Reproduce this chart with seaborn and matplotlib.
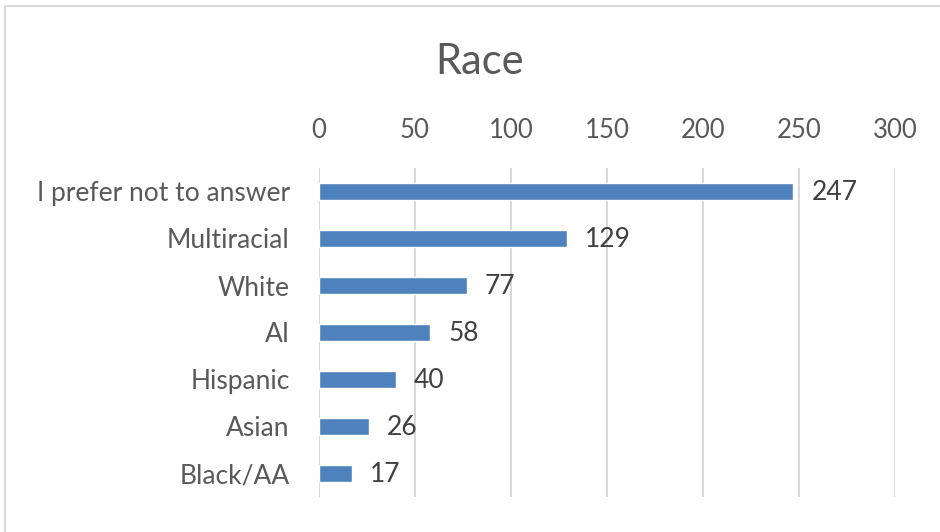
import matplotlib
matplotlib.use("Agg")
import matplotlib.pyplot as plt
from matplotlib.patches import Rectangle
import seaborn as sns
import pandas as pd

categories = ["I prefer not to answer", "Multiracial", "White", "AI", "Hispanic", "Asian", "Black/AA"]
counts = [247, 129, 77, 58, 40, 26, 17]
x_ticks = [0, 50, 100, 150, 200, 250, 300]

sns.set_theme(style="white")
plt.rcParams["font.family"] = ["Lato", "DejaVu Sans"]

text_color = "#595959"
bar_color = "#4F81BD"
grid_color = "#D9D9D9"

df = pd.DataFrame({"race": categories, "count": counts})

W, H = 940, 532
fig = plt.figure(figsize=(W / 100, H / 100), dpi=100)
ax = fig.add_axes([319 / W, 1 - 497 / H, (895 - 319) / W, (497 - 168) / H])

sns.barplot(data=df, x="count", y="race", color=bar_color, width=0.36,
            saturation=1, ax=ax, order=categories)

ax.set_xlim(0, 300)
ax.set_xticks(x_ticks)
ax.set_xticklabels([str(t) for t in x_ticks])
ax.xaxis.tick_top()
ax.tick_params(axis="x", length=0, pad=18, labelsize=18.5, labelcolor=text_color)
ax.tick_params(axis="y", length=0, pad=21, labelsize=19, labelcolor=text_color)
ax.set_xlabel("")
ax.set_ylabel("")
ax.grid(axis="x", color=grid_color, linewidth=1.5)
ax.set_axisbelow(True)
for s in ax.spines.values():
    s.set_visible(False)

for i, v in enumerate(counts):
    ax.annotate(str(v), xy=(v, i), xytext=(13, -1), textcoords="offset points",
                va="center", ha="left", fontsize=19, color="#404040")

fig.text(480 / W, 1 - 62 / H, "Race", ha="center", va="center",
         fontsize=30, color=text_color)

fig.patches.append(Rectangle((5 / W, -0.1), 1.2, 1 - 6 / H + 0.1,
                             transform=fig.transFigure, fill=False,
                             edgecolor=grid_color, linewidth=1.5))

fig.savefig("out.png", dpi=100, facecolor="white")
